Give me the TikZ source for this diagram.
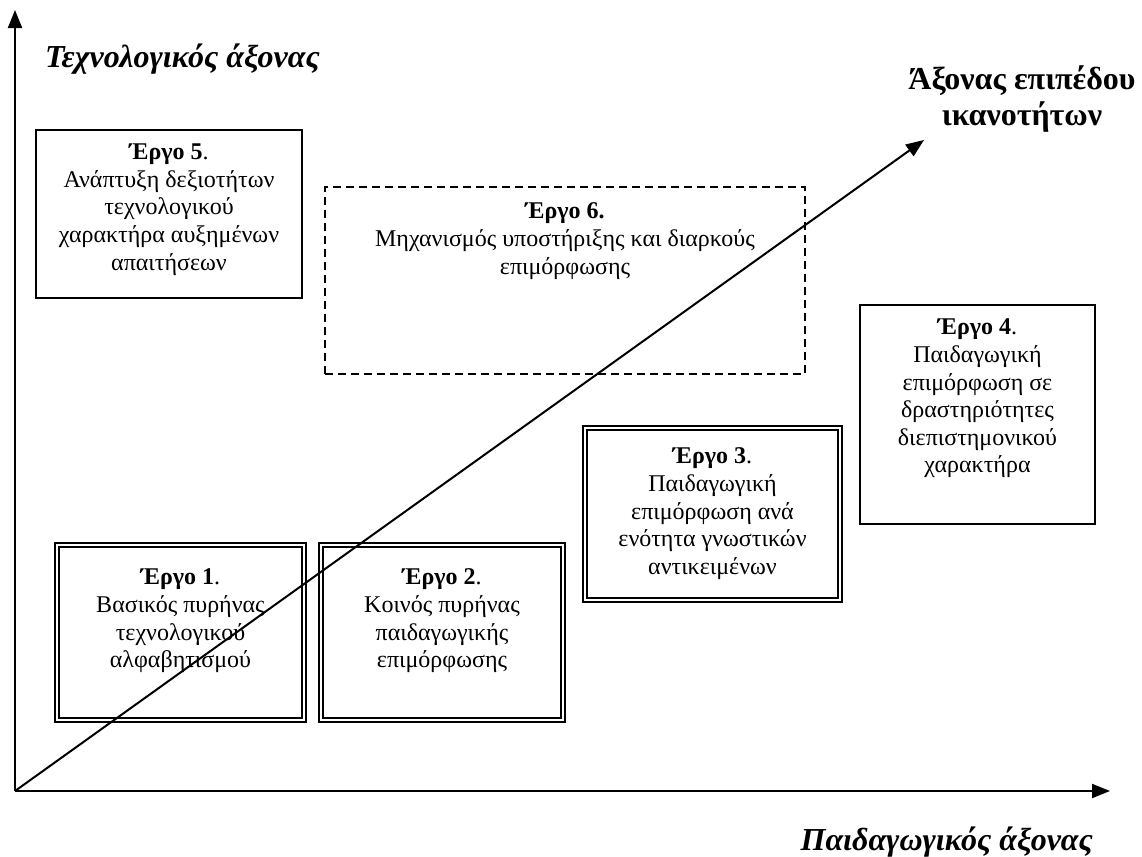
\documentclass[tikz,border=0pt]{standalone}
\usepackage{fontspec}
\setmainfont{Liberation Serif}
\usetikzlibrary{arrows.meta, positioning, calc}
\newcommand{\ergo}[3]{\begin{minipage}[c][#2][t]{#1}\centering #3\end{minipage}}

\begin{document}
\begin{tikzpicture}[
   x=0.5pt, y=-0.5pt,
   font=\fontsize{12}{13.8}\selectfont,
   >={Triangle[length=9pt, width=7pt]},
   axis/.style={->, line width=1pt},
   box/.style={draw, line width=0.75pt, inner xsep=4pt, inner ysep=7pt,
               outer sep=0pt, anchor=north west},
   tbox/.style={box, double, line width=1.1pt, double distance=0.9pt, inner ysep=10pt},
   dbox/.style={box, dash pattern=on 4pt off 2.5pt, inner ysep=8pt},
   axlbl/.style={font=\fontsize{16}{18.4}\selectfont\bfseries\itshape},
]
\useasboundingbox (0,0) rectangle (1142,857);

% ---- work packages ----
\node[box] (e5) at (36,130)
   {\ergo{125pt}{70pt}{\textbf{Έργο 5}.\\Ανάπτυξη δεξιοτήτων\\τεχνολογικού\\χαρακτήρα αυξημένων\\απαιτήσεων}};
\node[dbox] (e6) at (325,187)
   {\ergo{232pt}{77.5pt}{\textbf{Έργο 6.}\\Μηχανισμός υποστήριξης και διαρκούς\\επιμόρφωσης}};
\node[box] (e4) at (860,305)
   {\ergo{109.5pt}{95.5pt}{\textbf{Έργο 4}.\\Παιδαγωγική\\επιμόρφωση σε\\δραστηριότητες\\διεπιστημονικού\\χαρακτήρα}};
\node[tbox] (e3) at (585,428)
   {\ergo{119.5pt}{66pt}{\textbf{Έργο 3}.\\Παιδαγωγική\\επιμόρφωση ανά\\ενότητα γνωστικών\\αντικειμένων}};
\node[tbox, inner ysep=12pt] (e1) at (57,545)
   {\ergo{115.5pt}{63.5pt}{\textbf{Έργο 1}.\\Βασικός πυρήνας\\τεχνολογικού\\αλφαβητισμού}};
\node[tbox, inner ysep=12pt] (e2) at (321,545)
   {\ergo{113pt}{63.5pt}{\textbf{Έργο 2}.\\Κοινός πυρήνας\\παιδαγωγικής\\επιμόρφωσης}};

% ---- axes ----
\coordinate (O) at (15,791);
\coordinate (ytip) at (15,10);
\coordinate (xtip) at (1110,791);
\coordinate (dtip) at (924,140);
\draw[axis] (O) -- (ytip);
\draw[axis] (O) -- (xtip);
\draw[axis] (O) -- (dtip);

% ---- axis labels ----
\node[axlbl, anchor=west] (lbly) at (38,59) {Τεχνολογικός άξονας};
\node[axlbl, anchor=east] (lblx) at (1100,842) {Παιδαγωγικός άξονας};
\node[font=\fontsize{16}{18.4}\selectfont\bfseries, align=center] (lbld) at (1022,99)
   {Άξονας επιπέδου\\ικανοτήτων};
\end{tikzpicture}
\end{document}
